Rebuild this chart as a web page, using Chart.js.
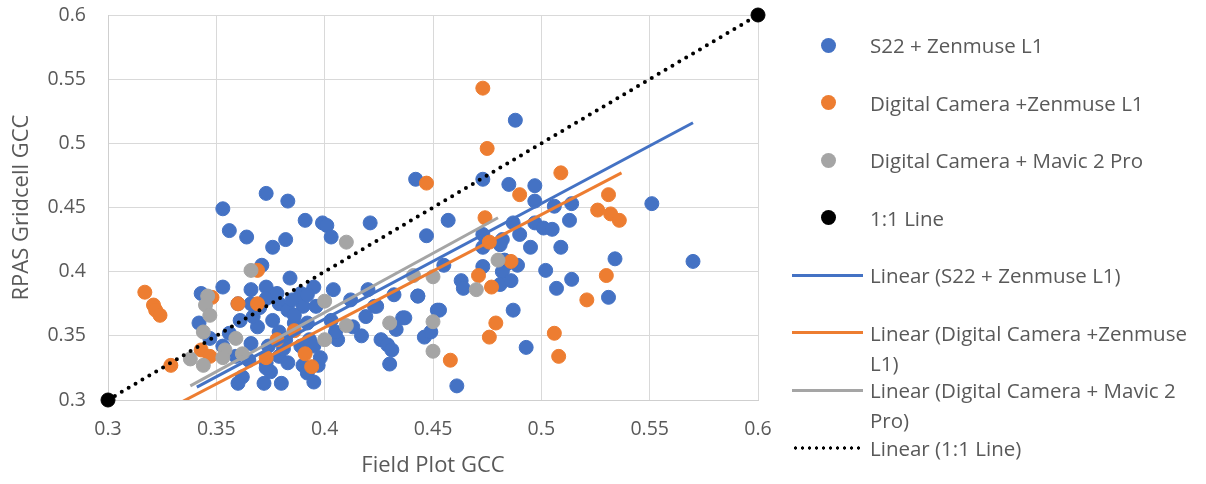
<!DOCTYPE html>
<html>
<head>
<meta charset="utf-8">
<script src="https://cdn.jsdelivr.net/npm/chart.js@4.4.1/dist/chart.umd.min.js"></script>
<style>
  html, body { margin: 0; padding: 0; background: #fff; }
  #wrap { position: relative; width: 1206px; height: 484px; overflow: hidden; }
  #chart { position: absolute; left: 0; top: 0; }
  #legend { position: absolute; left: 0; top: 0; width: 1206px; height: 484px; pointer-events: none;
            font-family: "Open Sans", Lato, sans-serif; font-size: 20.5px; color: #595959; }
  .dot { position: absolute; width: 15px; height: 15px; border-radius: 50%; }
  .bar { position: absolute; height: 3px; }
  .txt { position: absolute; left: 870px; width: 332px; line-height: 30px; white-space: normal; }
</style>
</head>
<body>
<div id="wrap">
  <canvas id="chart" width="1206" height="484"></canvas>
  <div id="legend"></div>
</div>
<script>
// (Field Plot GCC vs RPAS Gridcell GCC).
const xTicks = [0.3, 0.35, 0.4, 0.45, 0.5, 0.55, 0.6];
const xTickLabels = ["0.3", "0.35", "0.4", "0.45", "0.5", "0.55", "0.6"];
const yTicks = [0.3, 0.35, 0.4, 0.45, 0.5, 0.55, 0.6];
const yTickLabels = ["0.3", "0.35", "0.4", "0.45", "0.5", "0.55", "0.6"];

// S22 + Zenmuse L1
const s22X = [
  0.488, 0.442, 0.473, 0.373, 0.383, 0.353, 0.551, 0.485, 0.497, 0.497, 0.506, 0.514,
  0.513, 0.457, 0.391, 0.399, 0.401, 0.421, 0.356, 0.364, 0.403, 0.447, 0.376, 0.382,
  0.487, 0.497, 0.501, 0.505, 0.473, 0.482, 0.490, 0.495, 0.509, 0.534, 0.570, 0.473,
  0.483, 0.489, 0.502, 0.484, 0.482, 0.473, 0.481, 0.463, 0.464, 0.481, 0.486, 0.507,
  0.514, 0.531, 0.487, 0.453, 0.493, 0.455, 0.443, 0.461,
  0.371, 0.384, 0.353, 0.343, 0.342, 0.366, 0.373, 0.373, 0.379, 0.383, 0.389, 0.390,
  0.361, 0.369, 0.376, 0.379, 0.386, 0.392, 0.347, 0.366, 0.374, 0.382, 0.389, 0.365,
  0.373, 0.379, 0.383, 0.390, 0.362, 0.372, 0.380, 0.375, 0.392, 0.360, 0.373,
  0.395, 0.392, 0.404, 0.396, 0.412, 0.420, 0.423, 0.419, 0.432, 0.403, 0.433, 0.436,
  0.417, 0.406, 0.393, 0.395, 0.426, 0.429, 0.431, 0.430, 0.397, 0.395, 0.446, 0.449,
  0.452, 0.437, 0.424, 0.443,
  0.356, 0.353, 0.359, 0.367, 0.370, 0.378, 0.385, 0.386, 0.381, 0.398, 0.405, 0.413,
  0.360, 0.366
];
const s22Y = [
  0.518, 0.472, 0.472, 0.461, 0.455, 0.449, 0.453, 0.468, 0.467, 0.455, 0.451, 0.453,
  0.440, 0.440, 0.440, 0.438, 0.436, 0.438, 0.432, 0.427, 0.427, 0.428, 0.419, 0.425,
  0.438, 0.438, 0.434, 0.433, 0.429, 0.425, 0.429, 0.419, 0.419, 0.410, 0.408, 0.404,
  0.409, 0.405, 0.401, 0.406, 0.400, 0.419, 0.421, 0.393, 0.387, 0.390, 0.393, 0.387,
  0.394, 0.380, 0.370, 0.370, 0.341, 0.405, 0.381, 0.311,
  0.405, 0.395, 0.388, 0.383, 0.360, 0.386, 0.388, 0.379, 0.375, 0.370, 0.383, 0.373,
  0.362, 0.357, 0.362, 0.353, 0.360, 0.360, 0.348, 0.344, 0.342, 0.347, 0.342, 0.331,
  0.329, 0.334, 0.329, 0.327, 0.318, 0.313, 0.313, 0.322, 0.321, 0.313, 0.325,
  0.388, 0.382, 0.386, 0.373, 0.378, 0.386, 0.373, 0.365, 0.382, 0.362, 0.355, 0.364,
  0.350, 0.347, 0.347, 0.342, 0.347, 0.343, 0.339, 0.328, 0.327, 0.314, 0.349, 0.353,
  0.370, 0.364, 0.373, 0.381,
  0.352, 0.342, 0.334, 0.365, 0.372, 0.383, 0.378, 0.366, 0.340, 0.333, 0.353, 0.357,
  0.375, 0.375
];

// Digital Camera +Zenmuse L1
const dczX = [
  0.473, 0.475, 0.447, 0.509, 0.490, 0.531, 0.526, 0.532, 0.536, 0.474, 0.476, 0.486,
  0.471, 0.477, 0.530, 0.521, 0.479, 0.476, 0.506, 0.508, 0.458,
  0.317, 0.321, 0.322, 0.324, 0.329, 0.369, 0.360, 0.369, 0.343, 0.347, 0.391, 0.394,
  0.386, 0.378, 0.373, 0.348
];
const dczY = [
  0.543, 0.496, 0.469, 0.477, 0.460, 0.460, 0.448, 0.445, 0.440, 0.442, 0.423, 0.408,
  0.397, 0.388, 0.397, 0.378, 0.360, 0.349, 0.352, 0.334, 0.331,
  0.384, 0.374, 0.370, 0.366, 0.327, 0.401, 0.375, 0.375, 0.339, 0.334, 0.336, 0.326,
  0.354, 0.347, 0.333, 0.380
];

// Digital Camera + Mavic 2 Pro
const dcmX = [
  0.410, 0.366, 0.346, 0.345, 0.347, 0.344, 0.359, 0.338, 0.344, 0.354, 0.353, 0.362,
  0.400, 0.400, 0.410, 0.430, 0.441, 0.450, 0.450, 0.450, 0.470, 0.480
];
const dcmY = [
  0.423, 0.401, 0.381, 0.374, 0.366, 0.353, 0.348, 0.332, 0.327, 0.339, 0.333, 0.336,
  0.377, 0.347, 0.358, 0.360, 0.397, 0.396, 0.361, 0.338, 0.386, 0.409
];

// 1:1 Line
const oneX = [0.3, 0.6];
const oneY = [0.3, 0.6];

// Excel linear trendlines, end points as drawn
const s22TrendX = [0.341, 0.570];
const s22TrendY = [0.310, 0.516];
const dczTrendX = [0.317, 0.537];
const dczTrendY = [0.2835, 0.477];
const dcmTrendX = [0.338, 0.480];
const dcmTrendY = [0.311, 0.442];

const legendLabels = [
  "S22 + Zenmuse L1",
  "Digital Camera +Zenmuse L1",
  "Digital Camera + Mavic 2 Pro",
  "1:1 Line",
  "Linear (S22 + Zenmuse L1)",
  "Linear (Digital Camera +Zenmuse L1)",
  "Linear (Digital Camera + Mavic 2 Pro)",
  "Linear (1:1 Line)",
];

const BLUE = "#4472C4", ORANGE = "#ED7D31", GRAY = "#A5A5A5", BLACK = "#000000";
const FONT = "'Open Sans', Lato, sans-serif";
const TEXT = "#595959";

const pts = (xs, ys) => xs.map((x, i) => ({ x, y: ys[i] }));

function scatterSet(label, xs, ys, color, order) {
  return {
    label, data: pts(xs, ys), order,
    showLine: false,
    pointRadius: 7, pointBorderWidth: 1,
    backgroundColor: color, borderColor: color,
    pointHoverRadius: 7,
    clip: false,
  };
}

function trendSet(label, xs, ys, color, order, dotted) {
  return {
    label, data: pts(xs, ys), order,
    showLine: true, pointRadius: 0, pointHoverRadius: 0,
    borderColor: color, backgroundColor: color,
    borderWidth: dotted ? 4 : 3,
    borderDash: dotted ? [0, 8] : [],
    borderCapStyle: dotted ? "round" : "butt",
    fill: false,
  };
}

const colors = [BLUE, ORANGE, GRAY, BLACK];

new Chart(document.getElementById("chart"), {
  type: "scatter",
  data: {
    datasets: [
      scatterSet(legendLabels[0], s22X, s22Y, BLUE, 7),
      scatterSet(legendLabels[1], dczX, dczY, ORANGE, 6),
      scatterSet(legendLabels[2], dcmX, dcmY, GRAY, 5),
      scatterSet(legendLabels[3], oneX, oneY, BLACK, 4),
      trendSet(legendLabels[4], s22TrendX, s22TrendY, BLUE, 3, false),
      trendSet(legendLabels[5], dczTrendX, dczTrendY, ORANGE, 2, false),
      trendSet(legendLabels[6], dcmTrendX, dcmTrendY, GRAY, 1, false),
      trendSet(legendLabels[7], oneX, oneY, BLACK, 0, true),
    ],
  },
  options: {
    responsive: false,
    animation: false,
    events: [],
    layout: { padding: { top: 15, right: 448, left: 0, bottom: 0 } },
    plugins: { legend: { display: false }, tooltip: { enabled: false } },
    scales: {
      x: {
        type: "linear", min: 0.3, max: 0.6,
        afterBuildTicks: s => { s.ticks = xTicks.map(v => ({ value: v })); },
        afterFit: s => { s.height = 84; s.paddingLeft = 0; s.paddingRight = 0; },
        grid: { color: "#d9d9d9", lineWidth: 1, drawTicks: false },
        border: { color: "#cfcfcf", width: 1 },
        ticks: {
          color: TEXT, padding: 18, maxRotation: 0,
          font: { family: FONT, size: 19.5 },
          callback: (v, i) => xTickLabels[i],
        },
        title: {
          display: true, text: "Field Plot GCC", color: TEXT,
          font: { family: FONT, size: 22 }, padding: { top: 0, bottom: 5 },
        },
      },
      y: {
        type: "linear", min: 0.3, max: 0.6,
        afterBuildTicks: s => { s.ticks = yTicks.map(v => ({ value: v })); },
        afterFit: s => { s.width = 108; s.paddingTop = 0; s.paddingBottom = 0; },
        grid: { color: "#d9d9d9", lineWidth: 1, drawTicks: false },
        border: { color: "#cfcfcf", width: 1 },
        ticks: {
          color: TEXT, padding: 22,
          font: { family: FONT, size: 19.5 },
          callback: (v, i) => yTickLabels[i],
        },
        title: {
          display: true, text: "RPAS Gridcell GCC", color: TEXT,
          font: { family: FONT, size: 22 }, padding: { top: 9, bottom: 0 },
        },
      },
    },
  },
});

// Legend on the right, laid out like the Excel one
const legend = document.getElementById("legend");
legendLabels.forEach((label, i) => {
  const cy = 45 + i * 57.5;
  if (i < 4) {
    const d = document.createElement("div");
    d.className = "dot";
    d.style.left = (828 - 7.5) + "px";
    d.style.top = (cy - 7.5) + "px";
    d.style.background = colors[i];
    legend.appendChild(d);
  } else {
    const b = document.createElement("div");
    b.className = "bar";
    b.style.left = "792px";
    b.style.width = "71px";
    b.style.top = (cy - 1.5) + "px";
    if (i === 7) {
      b.style.height = "4px";
      b.style.top = (cy - 2) + "px";
      b.style.background = "radial-gradient(circle, #000 1.4px, transparent 1.9px) 0 0 / 7px 4px repeat-x";
    } else {
      b.style.background = colors[i - 4];
    }
    legend.appendChild(b);
  }
  const t = document.createElement("div");
  t.className = "txt";
  t.style.top = (cy - 15) + "px";
  t.textContent = label;
  legend.appendChild(t);
});
</script>
</body>
</html>
